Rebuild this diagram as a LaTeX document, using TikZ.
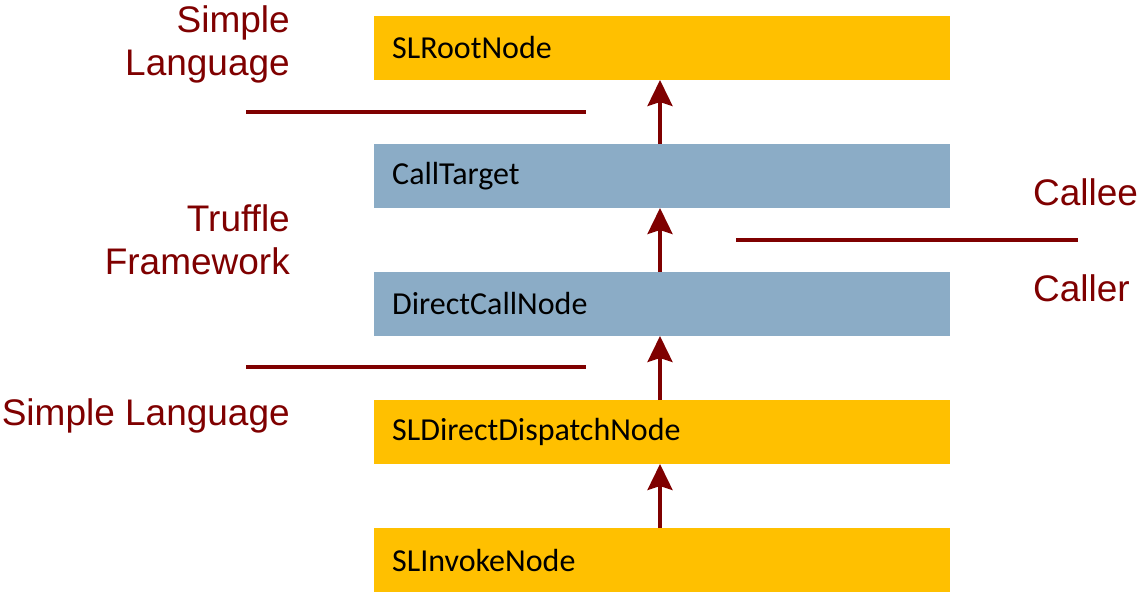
\documentclass[tikz,border=0pt]{standalone}
\usepackage{fontspec}
\setmainfont{Liberation Sans}
\newfontfamily\boxfont{Carlito}
\usetikzlibrary{arrows.meta}
\definecolor{dred}{HTML}{7F0000}
\definecolor{sly}{HTML}{FFC000}
\definecolor{trb}{HTML}{8BACC6}
\begin{document}
\begin{tikzpicture}[x=1pt,y=-1pt,
  blk/.style={minimum width=576pt,minimum height=64pt,inner sep=0pt,draw=none,anchor=north west},
  blktxt/.style={anchor=west,font=\boxfont\fontsize{32}{38}\selectfont,text=black,inner sep=0pt},
  lab/.style={font=\fontsize{37}{43}\selectfont,text=dred,inner sep=0pt,align=right},
  sep/.style={draw=dred,line width=3.5pt},
  up/.style={draw=dred,line width=3.5pt,-{Stealth[length=26pt,width=25pt,inset=4pt]}}]
\useasboundingbox (0,0) rectangle (1138,592);
\node[blk,fill=sly] (b1) at (374,16) {};
\node[blk,fill=trb] (b2) at (374,144) {};
\node[blk,fill=trb] (b3) at (374,272) {};
\node[blk,fill=sly] (b4) at (374,400) {};
\node[blk,fill=sly] (b5) at (374,528) {};
\node[blktxt] (t1) at (392,48) {SLRootNode};
\node[blktxt] (t2) at (392,176) {CallTarget};
\node[blktxt] (t3) at (392,304) {DirectCallNode};
\node[blktxt] (t4) at (392,432) {SLDirectDispatchNode};
\node[blktxt] (t5) at (392,560) {SLInvokeNode};
\coordinate (a2) at (660,144); \coordinate (a1) at (660,80);
\coordinate (a3) at (660,272); \coordinate (a2b) at (660,208);
\coordinate (a4) at (660,400); \coordinate (a3b) at (660,336);
\coordinate (a5) at (660,528); \coordinate (a4b) at (660,464);
\draw[up] (a2) -- (a1);
\draw[up] (a3) -- (a2b);
\draw[up] (a4) -- (a3b);
\draw[up] (a5) -- (a4b);
\coordinate (l1a) at (246,112); \coordinate (l1b) at (586,112);
\coordinate (l2a) at (246,367); \coordinate (l2b) at (586,367);
\coordinate (l3a) at (736,240); \coordinate (l3b) at (1078,240);
\draw[sep] (l1a) -- (l1b);
\draw[sep] (l2a) -- (l2b);
\draw[sep] (l3a) -- (l3b);
\node[lab,anchor=east] (s1) at (290,44) {Simple\\Language};
\node[lab,anchor=east] (tf) at (290,240) {Truffle\\Framework};
\node[lab,anchor=east] (s2) at (290,416) {Simple Language};
\node[lab,anchor=west] (ce) at (1033,192) {Callee};
\node[lab,anchor=west] (cr) at (1033,288) {Caller};
\end{tikzpicture}
\end{document}
